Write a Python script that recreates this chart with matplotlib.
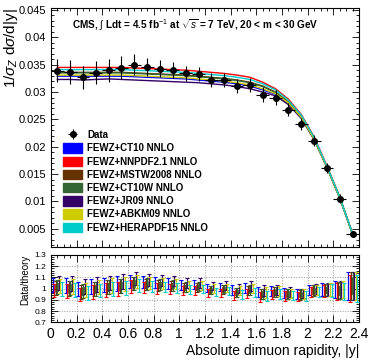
import numpy as np
import matplotlib
matplotlib.use("Agg")
import matplotlib.pyplot as plt
from matplotlib.ticker import MultipleLocator

plt.rcParams['font.family'] = ['Liberation Sans', 'DejaVu Sans']
plt.rcParams['mathtext.fontset'] = 'custom'
plt.rcParams['mathtext.rm'] = 'Liberation Sans'
plt.rcParams['mathtext.it'] = 'Liberation Sans:italic'

# bin centres in |y|
y_centres = [0.05, 0.15, 0.25, 0.35, 0.45, 0.55, 0.65, 0.75, 0.85, 0.95, 1.05, 1.15,
             1.25, 1.35, 1.45, 1.55, 1.65, 1.75, 1.85, 1.95, 2.05, 2.15, 2.25, 2.35]

data_vals = [0.0339, 0.0337, 0.0327, 0.0335, 0.0340, 0.0344, 0.0350, 0.0346, 0.0343, 0.0340,
             0.0334, 0.0333, 0.0322, 0.0322, 0.0311, 0.0313, 0.0295, 0.0290, 0.0268, 0.0241,
             0.0211, 0.0161, 0.0105, 0.0041]
data_errs = [0.0021, 0.0022, 0.0021, 0.0021, 0.0021, 0.0021, 0.0019, 0.0017, 0.0016, 0.0015,
             0.0014, 0.0013, 0.0012, 0.0012, 0.0013, 0.0013, 0.0014, 0.0013, 0.0012, 0.0011,
             0.0010, 0.0009, 0.0008, 0.0005]

# theory predictions per PDF set
ct10 = [0.0329, 0.0329, 0.0329, 0.0329, 0.0329, 0.0329, 0.0328, 0.0327, 0.0326, 0.0325, 0.0324, 0.0322,
        0.0320, 0.0318, 0.0315, 0.0311, 0.0304, 0.0296, 0.0279, 0.0253, 0.0214, 0.0162, 0.0106, 0.0040]
nnpdf = [0.0345, 0.0345, 0.0345, 0.0345, 0.0345, 0.0345, 0.0344, 0.0343, 0.0342, 0.0341, 0.0340, 0.0338,
         0.0336, 0.0334, 0.0331, 0.0327, 0.0318, 0.0306, 0.0287, 0.0259, 0.0218, 0.0165, 0.0108, 0.0041]
mstw = [0.0336, 0.0336, 0.0336, 0.0336, 0.0336, 0.0336, 0.0335, 0.0334, 0.0333, 0.0332, 0.0331, 0.0329,
        0.0327, 0.0325, 0.0322, 0.0318, 0.0311, 0.0300, 0.0282, 0.0255, 0.0215, 0.0163, 0.0107, 0.0040]
ct10w = [0.0335, 0.0335, 0.0335, 0.0335, 0.0335, 0.0335, 0.0334, 0.0333, 0.0332, 0.0331, 0.0330, 0.0328,
         0.0326, 0.0324, 0.0321, 0.0317, 0.0310, 0.0299, 0.0281, 0.0254, 0.0215, 0.0163, 0.0107, 0.0040]
jr09 = [0.0323, 0.0323, 0.0322, 0.0323, 0.0324, 0.0323, 0.0322, 0.0321, 0.0320, 0.0319, 0.0318, 0.0317,
        0.0315, 0.0313, 0.0310, 0.0306, 0.0300, 0.0293, 0.0277, 0.0252, 0.0213, 0.0162, 0.0106, 0.0040]
abkm = [0.0331, 0.0331, 0.0331, 0.0331, 0.0331, 0.0331, 0.0330, 0.0329, 0.0328, 0.0327, 0.0326, 0.0324,
        0.0322, 0.0320, 0.0317, 0.0313, 0.0306, 0.0297, 0.0280, 0.0254, 0.0214, 0.0162, 0.0106, 0.0040]
hera = [0.0341, 0.0341, 0.0341, 0.0341, 0.0341, 0.0341, 0.0340, 0.0339, 0.0338, 0.0337, 0.0336, 0.0334,
        0.0332, 0.0330, 0.0327, 0.0323, 0.0315, 0.0304, 0.0285, 0.0258, 0.0217, 0.0164, 0.0108, 0.0041]

theories = [
    ("FEWZ+CT10 NNLO", ct10, "#0000ff"),
    ("FEWZ+NNPDF2.1 NNLO", nnpdf, "#ff0000"),
    ("FEWZ+MSTW2008 NNLO", mstw, "#663300"),
    ("FEWZ+CT10W NNLO", ct10w, "#336633"),
    ("FEWZ+JR09 NNLO", jr09, "#330066"),
    ("FEWZ+ABKM09 NNLO", abkm, "#cccc00"),
    ("FEWZ+HERAPDF15 NNLO", hera, "#00cccc"),
]

x = np.array(y_centres)
d = np.array(data_vals)
de = np.array(data_errs)

fig = plt.figure(figsize=(3.74, 3.63), dpi=100)
ax = fig.add_axes([0.136, 0.320, 0.824, 0.657])
axr = fig.add_axes([0.136, 0.112, 0.824, 0.186])


def root_ticks(a):
    a.tick_params(which='both', direction='in', top=True, right=True)
    a.tick_params(which='major', length=5, width=0.6)
    a.tick_params(which='minor', length=2.5, width=0.6)
    for s in a.spines.values():
        s.set_linewidth(0.8)


handles = []
for name, vals, col in theories:
    ax.plot(x, vals, color=col, lw=1.0)
    handles.append(plt.Rectangle((0, 0), 1, 1, facecolor=col, edgecolor=col))

hd = ax.errorbar(x, d, yerr=de, xerr=0.05, fmt='o', color='black', ms=4, lw=0.8,
                 capsize=0, zorder=5)

ax.set_xlim(0, 2.4)
ax.set_ylim(0.0017, 0.0453)
ax.xaxis.set_major_locator(MultipleLocator(0.2))
ax.xaxis.set_minor_locator(MultipleLocator(0.05))
ax.yaxis.set_minor_locator(MultipleLocator(0.001))
ax.set_xticklabels([])
ax.set_yticks([0.005, 0.01, 0.015, 0.02, 0.025, 0.03, 0.035, 0.04, 0.045])
ax.set_yticklabels(['0.005', '0.01', '0.015', '0.02', '0.025', '0.03', '0.035', '0.04', '0.045'],
                   fontsize=8)
root_ticks(ax)
ax.set_ylabel(r"1/$\sigma_Z$ d$\sigma$/d|y|", fontsize=11, loc='top')
ax.yaxis.set_label_coords(-0.10, 1.0)

ax.text(0.07, 0.93, r"CMS, $\int$ Ldt = 4.5 fb$^{-1}$ at $\sqrt{s}$ = 7 TeV, 20 < m < 30 GeV",
        transform=ax.transAxes, fontsize=7.2, fontweight='bold', va='center', ha='left')

leg = ax.legend([hd] + handles, ["Data"] + [t[0] for t in theories], loc='lower left',
                bbox_to_anchor=(0.02, 0.035), frameon=False, prop={'size': 7, 'weight': 'bold'},
                handlelength=2.0, handleheight=1.1, labelspacing=0.33, handletextpad=0.5,
                borderaxespad=0.2)

# ratio panel
offsets = [-0.036, -0.024, -0.012, 0.0, 0.012, 0.024, 0.036]
for (name, vals, col), off in zip(theories, offsets):
    t = np.array(vals)
    r = d / t
    re = de / t
    if name in ("FEWZ+MSTW2008 NNLO", "FEWZ+CT10W NNLO"):
        axr.bar(x + off, 2 * re * 0.55, bottom=r - re * 0.55, width=0.012,
                color='#777766', edgecolor=col, lw=0.5, zorder=3)
    axr.errorbar(x + off, r, yerr=re, fmt='none', ecolor=col, lw=0.9, capsize=1.2,
                 capthick=0.8, zorder=4)

axr.set_xlim(0, 2.4)
axr.set_ylim(0.7, 1.3)
axr.xaxis.set_minor_locator(MultipleLocator(0.05))
axr.yaxis.set_minor_locator(MultipleLocator(0.02))
axr.set_xticks([0, 0.2, 0.4, 0.6, 0.8, 1, 1.2, 1.4, 1.6, 1.8, 2, 2.2, 2.4])
axr.set_xticklabels(['0', '0.2', '0.4', '0.6', '0.8', '1', '1.2', '1.4', '1.6', '1.8', '2',
                     '2.2', '2.4'], fontsize=10)
axr.set_yticks([0.7, 0.8, 0.9, 1.0, 1.1, 1.2, 1.3])
axr.set_yticklabels(['0.7', '0.8', '0.9', '1', '1.1', '1.2', '1.3'], fontsize=6)
root_ticks(axr)
axr.grid(True, which='major', color='#999999', ls=':', lw=0.7)
axr.set_axisbelow(True)
axr.set_ylabel("Data/theory", fontsize=7, loc='top', labelpad=3)
axr.set_xlabel("Absolute dimuon rapidity, |y|", fontsize=10, loc='right', labelpad=2)

fig.savefig("out.png", dpi=100)
